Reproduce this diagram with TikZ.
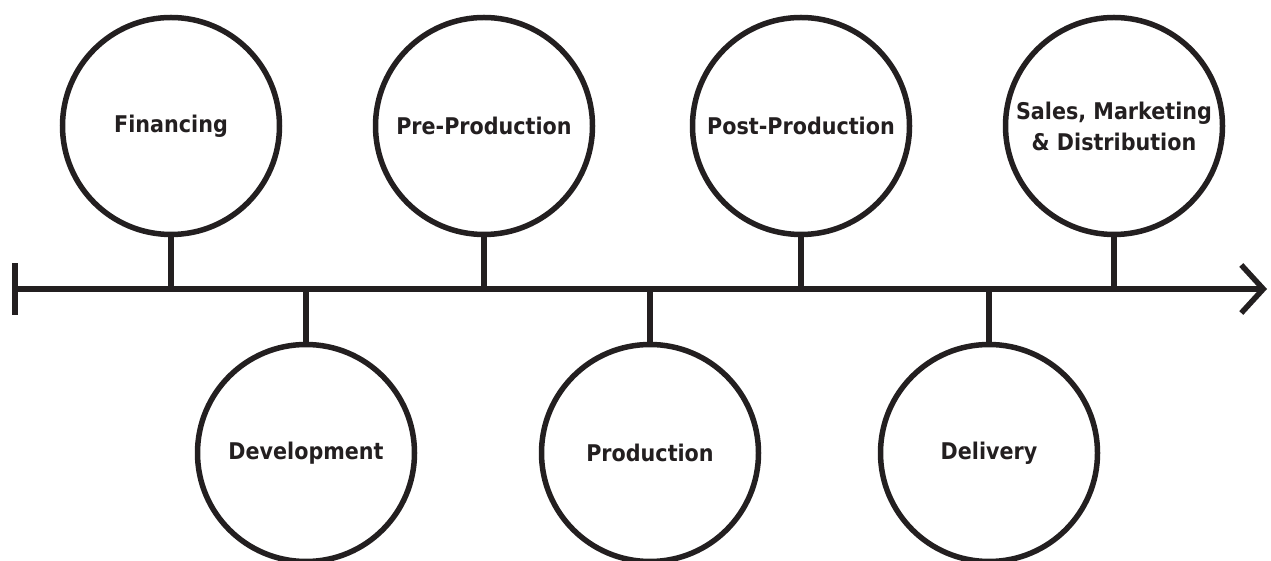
\documentclass[tikz,border=0pt]{standalone}
\usepackage{fontspec}
\setmainfont[FakeStretch=0.9]{DejaVu Sans}
\usetikzlibrary{arrows.meta}
\definecolor{ink}{HTML}{231F20}
\tikzset{stage/.style={draw, circle, line width=5.5pt, minimum size=217pt, inner sep=0pt, align=center, text=ink, font=\bfseries\fontsize{23}{31}\selectfont}}
\begin{document}
\begin{tikzpicture}[x=1pt,y=1pt,line width=5.5pt,line cap=butt,color=ink]
\def \axisy{272};
\def \topy{435};
\def \boty{108};
\useasboundingbox (0,0) rectangle (1271,561);
% time axis
\coordinate (start) at (12,\axisy);
\coordinate (end) at (1267,\axisy);
\draw[{Bar[width=52pt]}-{Straight Barb[length=22pt,width=48pt]}] (start) -- (end);
% stages above the axis
\foreach \n/\x/\t in {fin/171/Financing, pre/484/Pre-Production, post/801/Post-Production, sales/1114/{Sales, Marketing\\\& Distribution}}
{
\node[stage] (\n) at (\x,\topy) {\t};
\coordinate (\n-a) at (\x,\axisy);
\draw (\n) -- (\n-a);
}
% stages below the axis
\foreach \n/\x/\t in {dev/306/Development, prod/650/Production, deliv/989/Delivery}
{
\node[stage] (\n) at (\x,\boty) {\t};
\coordinate (\n-a) at (\x,\axisy);
\draw (\n) -- (\n-a);
}
\end{tikzpicture}
\end{document}
